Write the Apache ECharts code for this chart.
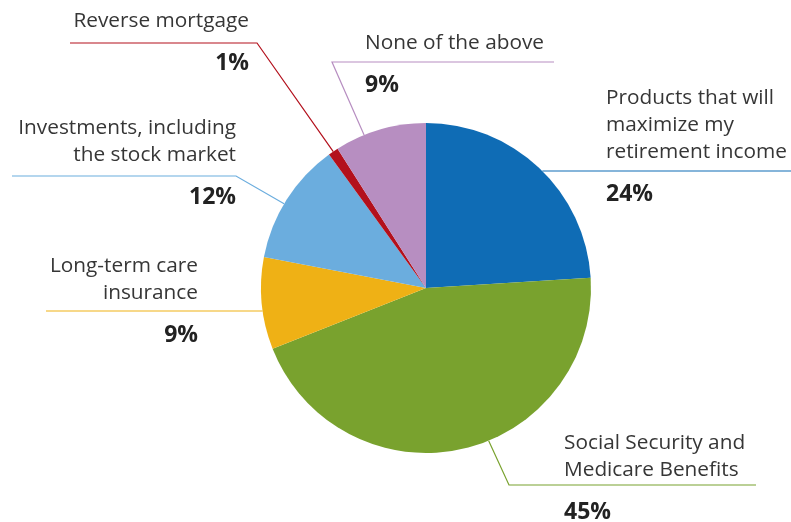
<!DOCTYPE html>
<html>
<head>
<meta charset="utf-8">
<script src="https://cdn.jsdelivr.net/npm/echarts@6/dist/echarts.min.js"></script>
<style>
  html, body { margin: 0; padding: 0; background: #ffffff; }
  #chart { width: 791px; height: 522px; }
</style>
</head>
<body>
<div id="chart"></div>
<script>
// Answer categories (clockwise from 12 o'clock) and their shares in percent
const categories = [
  'Products that will\nmaximize my\nretirement income',
  'Social Security and\nMedicare Benefits',
  'Long-term care\ninsurance',
  'Investments, including\nthe stock market',
  'Reverse mortgage',
  'None of the above'
];
const shares = [24, 45, 9, 12, 1, 9];
const sliceColors = ['#0f6cb5', '#79a22e', '#efb115', '#6badde', '#b3101c', '#b78ec1'];

// Pie geometry
const CX = 426, CY = 288, R = 165;
const NAME_LH = 27, PCT_GAP = 42;

// Callout placement: text anchor, leader line row, and where the leader meets the pie
const callouts = [
  { align: 'left',  textX: 606, top: 84.5,  lineY: 171, lineEnd: 791 },
  { align: 'left',  textX: 564, top: 429.5, lineY: 485, lineEnd: 756, elbowX: 509, frac: 0.44 },
  { align: 'right', textX: 198, top: 252.5, lineY: 311, lineEnd: 46 },
  { align: 'right', textX: 236, top: 114.5, lineY: 176, lineEnd: 12,  elbowX: 236, frac: 0.46 },
  { align: 'right', textX: 249, top: 7.5,   lineY: 43,  lineEnd: 70,  elbowX: 257, frac: 0.5 },
  { align: 'left',  textX: 365, top: 29.5,  lineY: 62,  lineEnd: 554, elbowX: 332, frac: 0.32 }
];

const total = shares.reduce((a, b) => a + b, 0);
const startShare = shares.map((v, i) => shares.slice(0, i).reduce((a, b) => a + b, 0));

function edgePoint(i, frac) {
  const a = (startShare[i] + frac * shares[i]) / total * Math.PI * 2;
  return [CX + R * Math.sin(a), CY - R * Math.cos(a)];
}

function leaderPoints(i) {
  const c = callouts[i];
  if (c.elbowX === undefined) {
    const dx = Math.sqrt(R * R - (c.lineY - CY) * (c.lineY - CY));
    const sx = c.lineEnd > CX ? CX + dx : CX - dx;
    return [[sx, c.lineY], [(sx + c.lineEnd) / 2, c.lineY], [c.lineEnd, c.lineY]];
  }
  return [edgePoint(i, c.frac), [c.elbowX, c.lineY], [c.lineEnd, c.lineY]];
}

const chart = echarts.init(document.getElementById('chart'), null, { renderer: 'canvas' });

chart.setOption({
  backgroundColor: '#ffffff',
  animation: false,
  series: [{
    type: 'pie',
    center: [CX, CY],
    radius: [0, R],
    startAngle: 90,
    clockwise: true,
    avoidLabelOverlap: false,
    data: categories.map((name, i) => ({
      name: name,
      value: shares[i],
      itemStyle: { color: sliceColors[i] }
    })),
    itemStyle: { borderWidth: 0 },
    emphasis: { disabled: true },
    label: {
      show: true,
      formatter: p => p.name.split('\n').map(s => '{n|' + s + '}').join('\n') + '\n{p|' + p.value + '%}',
      rich: {
        n: { fontFamily: 'Open Sans', fontSize: 20.8, color: '#363636', lineHeight: NAME_LH },
        p: { fontFamily: 'Open Sans', fontSize: 23, fontWeight: 'bold', color: '#222222',
             lineHeight: (PCT_GAP - NAME_LH / 2) * 2 }
      }
    },
    labelLine: { show: true, lineStyle: { width: 1.2 } },
    labelLayout: params => {
      const c = callouts[params.dataIndex];
      return {
        x: c.textX,
        y: c.top,
        align: c.align,
        verticalAlign: 'top',
        labelLinePoints: leaderPoints(params.dataIndex)
      };
    }
  }]
});
</script>
</body>
</html>
